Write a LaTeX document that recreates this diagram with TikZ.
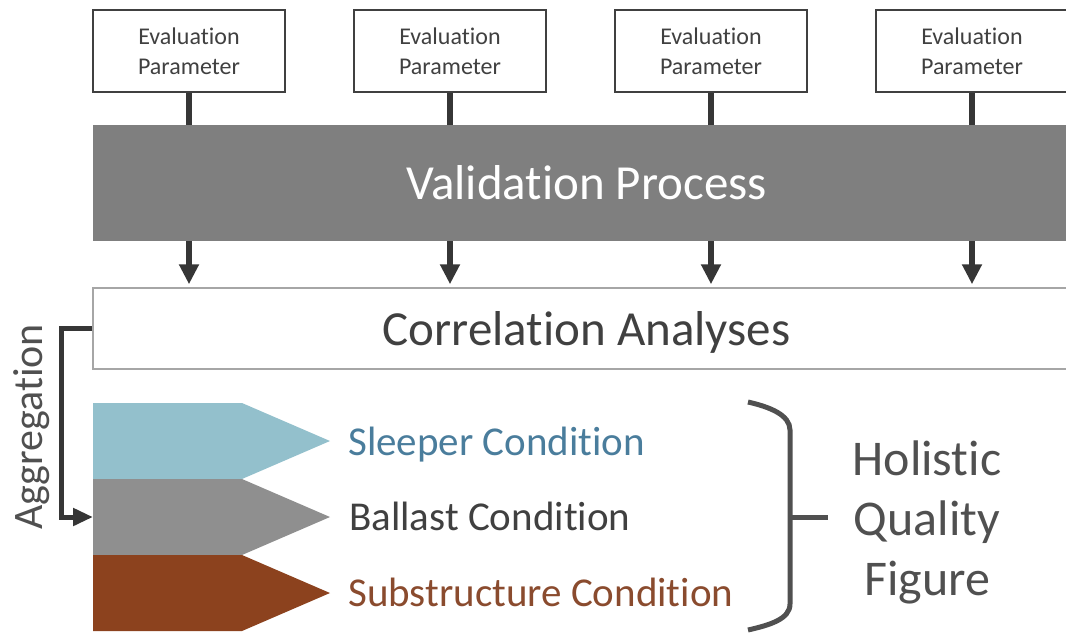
\documentclass[tikz,border=0pt]{standalone}
\usepackage{fontspec}
\setmainfont{Carlito}[RawFeature={-liga}]
\usetikzlibrary{arrows.meta}
\definecolor{boxline}{HTML}{404040}
\definecolor{connc}{HTML}{363636}
\definecolor{barfill}{HTML}{7F7F7F}
\definecolor{corrline}{HTML}{A6A6A6}
\definecolor{txtdark}{HTML}{404040}
\definecolor{txtmid}{HTML}{505050}
\definecolor{chblue}{HTML}{93C0CC}
\definecolor{chgray}{HTML}{8F8F8F}
\definecolor{chbrown}{HTML}{8C421E}
\definecolor{tblue}{HTML}{4A7D9C}
\definecolor{tbrown}{HTML}{8A4B2E}
\definecolor{bracec}{HTML}{505050}
\begin{document}
\begin{tikzpicture}[x=1pt,y=-1pt,
  evalbox/.style={draw=boxline,line width=1.5pt,fill=white,minimum width=192pt,minimum height=82pt,
    inner sep=0pt,align=center,text=txtdark,font=\fontsize{24}{30}\selectfont},
  feed/.style={draw=connc,line width=6pt},
  downarrow/.style={draw=connc,line width=6pt,-{Triangle[width=19pt,length=20pt]},shorten >=3pt},
  condtext/.style={anchor=base west,inner sep=0pt,font=\fontsize{41}{49}\selectfont},
  bracepath/.style={draw=bracec,line width=5pt}]
\useasboundingbox (0,0) rectangle (1066,633);
\clip (0,0) rectangle (1066,633);

% Validation bar and correlation box
\node[fill=barfill,minimum width=987pt,minimum height=116pt,inner sep=0pt,
  text=white,font=\fontsize{49}{58}\selectfont] (bar) at (586.5,183) {Validation Process};
\node[draw=corrline,line width=1.5pt,minimum width=987pt,minimum height=81pt,inner sep=0pt,
  text=txtdark,text depth=0pt,font=\fontsize{49}{58}\selectfont] (corr) at (586.5,328.5) {Correlation Analyses};

% Evaluation parameter boxes
\foreach \i/\x in {1/189,2/450,3/711,4/972}{
  \node[evalbox] (ep\i) at (\x,51) {Evaluation\\Parameter};
  \draw[feed] (ep\i.south) -- (ep\i.south |- bar.north);
  \draw[downarrow] (ep\i.south |- bar.south) -- (ep\i.south |- corr.north);
}

% Condition chevrons
\fill[chblue] (93,403) -- (242,403) -- (330,441) -- (242,479) -- (93,479) -- cycle;
\fill[chgray] (93,479) -- (242,479) -- (330,517) -- (242,555) -- (93,555) -- cycle;
\fill[chbrown] (93,555) -- (242,555) -- (330,593) -- (242,631) -- (93,631) -- cycle;
\coordinate (ballast) at (93,517);

\node[condtext,text=tblue] (sleeper) at (348,455) {Sleeper Condition};
\node[condtext,text=txtdark] (ballasttxt) at (349,530) {Ballast Condition};
\node[condtext,text=tbrown] (subst) at (348,606) {Substructure Condition};

% Aggregation connector
\draw[draw=connc,line width=5pt,-{Triangle[width=17pt,length=20pt]}]
  (corr.west) -- ++(-31,0) |- (ballast);
\node[rotate=90,anchor=base,inner sep=0pt,text=txtmid,font=\fontsize{42}{50}\selectfont]
  (aggr) at (42,427) {Aggregation};

% Brace and holistic figure
\coordinate (btop) at (748,402);
\coordinate (bbot) at (748,630);
\coordinate (bmid) at (790,517);
\coordinate (btick) at (828,517);
\node[align=center,inner sep=0pt,text=txtmid,font=\fontsize{50}{60}\selectfont]
  (holistic) at (927,522) {Holistic\\Quality\\Figure};
\draw[bracepath] (btop) .. controls (770,407) and (790,415) .. (790,430) -- (790,604)
  .. controls (790,619) and (770,625) .. (bbot);
\draw[bracepath] (bmid) -- (btick);
\end{tikzpicture}
\end{document}
